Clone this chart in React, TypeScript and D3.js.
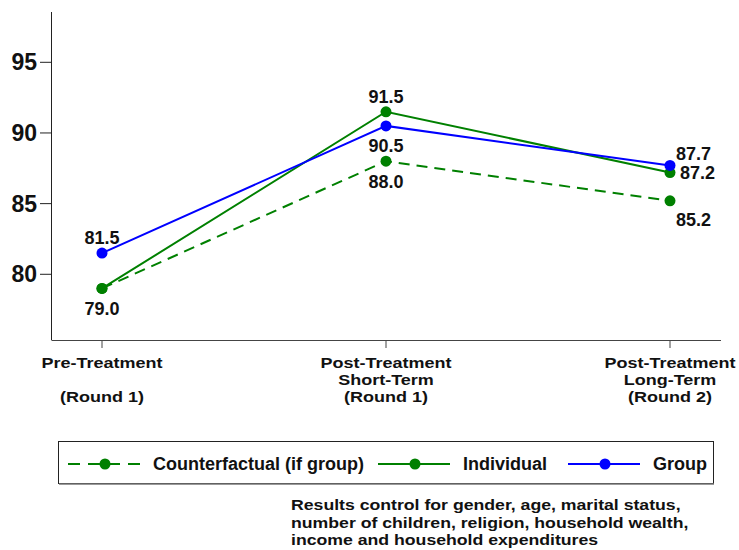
import React from 'react'
import * as d3 from 'd3'

const categories = ['pre', 'short', 'long']
const tickLabels = [
	['Pre-Treatment', '', '(Round 1)'],
	['Post-Treatment', 'Short-Term', '(Round 1)'],
	['Post-Treatment', 'Long-Term', '(Round 2)']
]
const yTicks = [80, 85, 90, 95]

const counterfactual = [79.0, 88.0, 85.2]
const individual = [79.0, 91.5, 87.2]
const group = [81.5, 90.5, 87.7]

const noteLines = [
	'Results control for gender, age, marital status,',
	'number of children, religion, household wealth,',
	'income and household expenditures'
]

// label position as clock hour (0 = no label)
const cfLabelPos = [6, 6, 5]
const indLabelPos = [0, 12, 3]
const grpLabelPos = [12, 6, 1]

interface ISeries {
	name: string
	values: number[]
	labelPos: number[]
	color: string
	dash?: string
}

const series: ISeries[] = [
	{ name: 'Counterfactual (if group)', values: counterfactual, labelPos: cfLabelPos, color: '#008000', dash: '11,7' },
	{ name: 'Individual', values: individual, labelPos: indLabelPos, color: '#008000' },
	{ name: 'Group', values: group, labelPos: grpLabelPos, color: '#0000ff' }
]

const W = 739
const H = 550
const font = '"Liberation Sans", Arial, Helvetica, sans-serif'

const x = d3.scalePoint<string>().domain(categories).range([102, 670])
const y = d3.scaleLinear().domain([75.35, 98.56]).range([340, 12])

const labelOffset = (pos: number) => {
	switch (pos) {
		case 12:
			return { dx: 0, dy: -15, anchor: 'middle' }
		case 6:
			return { dx: 0, dy: 20, anchor: 'middle' }
		case 3:
			return { dx: 10, dy: 0, anchor: 'start' }
		case 1:
			return { dx: 6, dy: -12, anchor: 'start' }
		case 5:
			return { dx: 6, dy: 19, anchor: 'start' }
		default:
			return null
	}
}

const legendX = [68, 378, 568]
const legendY = 464

const App = () => {
	const line = d3
		.line<number>()
		.x((_, i) => x(categories[i]) as number)
		.y((d) => y(d))

	return (
		<svg
			width={W}
			height={H}
			style={{ position: 'absolute', left: 0, top: 0, background: '#fff' }}
			fontFamily={font}
			fontWeight="bold"
		>
			{/* axes */}
			<line x1={51.5} x2={51.5} y1={12} y2={340} stroke="#222" strokeWidth={1} />
			<line x1={51.5} x2={721} y1={340.5} y2={340.5} stroke="#444" strokeWidth={1} />
			{yTicks.map((t) => (
				<g key={t}>
					<line x1={40} x2={51.5} y1={y(t)} y2={y(t)} stroke="#222" />
					<text x={37} y={y(t)} dy="0.35em" textAnchor="end" fontSize={23} fill="#111">
						{t}
					</text>
				</g>
			))}
			{categories.map((c, i) => (
				<g key={c}>
					<line x1={x(c)} x2={x(c)} y1={340} y2={348} stroke="#444" />
					{tickLabels[i].map((s, j) => (
						<text
							key={j}
							transform={`translate(${x(c)},${363 + j * 17}) scale(1.2,1)`}
							dy="0.35em"
							textAnchor="middle"
							fontSize={15}
							fill="#111"
						>
							{s}
						</text>
					))}
				</g>
			))}

			{/* lines */}
			{series.map((s) => (
				<path
					key={s.name}
					d={line(s.values) || ''}
					fill="none"
					stroke={s.color}
					strokeWidth={2}
					strokeDasharray={s.dash}
				/>
			))}
			{/* markers */}
			{series.map((s) =>
				s.values.map((v, i) => (
					<circle key={s.name + i} cx={x(categories[i])} cy={y(v)} r={5.5} fill={s.color} />
				))
			)}
			{/* labels */}
			{series.map((s) =>
				s.values.map((v, i) => {
					const o = labelOffset(s.labelPos[i])
					if (!o) return null
					return (
						<text
							key={s.name + 'l' + i}
							x={(x(categories[i]) as number) + o.dx}
							y={y(v) + o.dy}
							dy="0.35em"
							textAnchor={o.anchor}
							fontSize={18}
							fill="#111"
						>
							{v.toFixed(1)}
						</text>
					)
				})
			)}

			{/* legend */}
			<rect x={58.5} y={441.5} width={655} height={42} fill="#fff" stroke="#222" strokeWidth={1} />
			<line x1={59} x2={714} y1={484} y2={484} stroke="#777" strokeWidth={1.5} />
			{series.map((s, i) => (
				<g key={s.name} transform={`translate(${legendX[i]},${legendY})`}>
					<line x1={0} x2={72} y1={0} y2={0} stroke={s.color} strokeWidth={2} strokeDasharray={s.dash ? '12,8' : undefined} />
					<circle cx={37} cy={0} r={5.5} fill={s.color} />
					<text x={85} y={0} dy="0.35em" fontSize={18} fill="#111">
						{s.name}
					</text>
				</g>
			))}

			{/* note */}
			{noteLines.map((l, i) => (
				<text
					key={i}
					transform={`translate(291,${505 + i * 17.5}) scale(1.14,1)`}
					dy="0.35em"
					fontSize={15.5}
					fill="#111"
				>
					{l}
				</text>
			))}
		</svg>
	)
}

export default App
